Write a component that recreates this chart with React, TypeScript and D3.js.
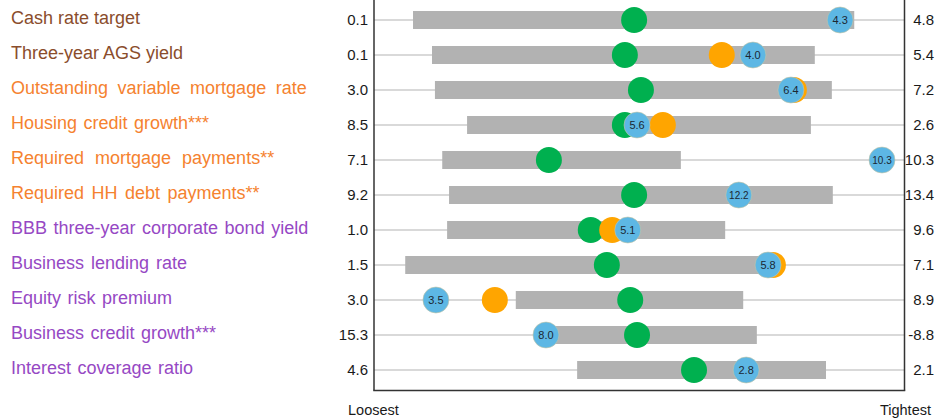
import React, { useEffect } from 'react';
import * as d3 from 'd3';

// indicators, top to bottom
const categories = [
  'Cash rate target',
  'Three-year AGS yield',
  'Outstanding variable mortgage rate',
  'Housing credit growth***',
  'Required mortgage payments**',
  'Required HH debt payments**',
  'BBB three-year corporate bond yield',
  'Business lending rate',
  'Equity risk premium',
  'Business credit growth***',
  'Interest coverage ratio',
];
const labelGroup = ['rates', 'rates', 'household', 'household', 'household', 'household',
  'business', 'business', 'business', 'business', 'business'];

const loosestValues = ['0.1', '0.1', '3.0', '8.5', '7.1', '9.2', '1.0', '1.5', '3.0', '15.3', '4.6'];
const tightestValues = ['4.8', '5.4', '7.2', '2.6', '10.3', '13.4', '9.6', '7.1', '8.9', '-8.8', '2.1'];

// positions between loosest (0) and tightest (1)
const rangeLow = [0.037, 0.076, 0.082, 0.148, 0.097, 0.111, 0.107, 0.021, 0.248, 0.312, 0.374];
const rangeHigh = [0.943, 0.862, 0.897, 0.854, 0.587, 0.899, 0.678, 0.770, 0.715, 0.743, 0.885];
const greenPos = [0.491, 0.472, 0.505, 0.472, 0.316, 0.491, 0.402, 0.435, 0.483, 0.497, 0.614];
const orangePos = [null, 0.671, 0.819, 0.550, null, null, 0.446, 0.776, 0.205, null, null];
const bluePos = [0.914, 0.735, 0.813, 0.497, 1.0, 0.706, 0.478, 0.766, 0.084, 0.310, 0.721];
const blueLabels = ['4.3', '4.0', '6.4', '5.6', '10.3', '12.2', '5.1', '5.8', '3.5', '8.0', '2.8'];

const groupColor = { rates: '#8a4d2c', household: '#f5822f', business: '#9648c4' };
// the source labels have uneven word gaps
const wordGap = [0, 0, 4.5, 1.5, 6, 2.5, 1.5, 2, 1.5, 1.5, 1.5];

const W = 935;
const H = 418;
const plotLeft = 374;
const plotRight = 904.5;
const plotBottom = 390.5;

export default function App() {
  useEffect(() => {
    document.body.style.margin = '0';
  }, []);

  const x = d3.scaleLinear().domain([0, 1]).range([395, 882]);
  const y = d3.scalePoint<string>().domain(categories).range([20, 370]);
  const r = 13;
  const barH = 18;
  const font = 'Liberation Sans, Arial, sans-serif';

  return (
    <svg width={W} height={H} style={{ display: 'block' }} fontFamily={font}>
      {categories.map((c, i) => (
        <g key={c}>
          <line x1={plotLeft} x2={plotRight} y1={y(c)} y2={y(c)} stroke="#d9d9d9" strokeWidth={2} />
          <rect x={x(rangeLow[i])} y={y(c)! - barH / 2} width={x(rangeHigh[i]) - x(rangeLow[i])}
            height={barH} fill="#b2b2b2" />
        </g>
      ))}
      {categories.map((c, i) => (
        <g key={'m' + c}>
          <circle cx={x(greenPos[i])} cy={y(c)} r={r} fill="#00b04f" />
          {orangePos[i] != null && (
            <circle cx={x(orangePos[i] as number)} cy={y(c)} r={r} fill="#ffa500" />
          )}
          <circle cx={x(bluePos[i])} cy={y(c)} r={r} fill="#5db7e4" stroke="#c9c6a4" strokeWidth={0.6} />
          <text x={x(bluePos[i])} y={y(c)} dy="0.35em" textAnchor="middle"
            fontSize={blueLabels[i].length > 3 ? 10 : 11} fill="#1b2733">{blueLabels[i]}</text>
        </g>
      ))}
      {categories.map((c, i) => (
        <g key={'t' + c}>
          <text x={11} y={y(c)! - 2} dy="0.35em" fontSize={18} wordSpacing={wordGap[i]}
            fill={groupColor[labelGroup[i] as keyof typeof groupColor]}>{c}</text>
          <text x={368} y={y(c)} dy="0.35em" textAnchor="end" fontSize={15} fill="#1a1a1a">
            {loosestValues[i]}
          </text>
          <text x={934} y={y(c)} dy="0.35em" textAnchor="end" fontSize={15} fill="#1a1a1a">
            {tightestValues[i]}
          </text>
        </g>
      ))}
      <line x1={plotLeft} x2={plotLeft} y1={0} y2={plotBottom} stroke="#333" strokeWidth={1.5} />
      <line x1={plotRight} x2={plotRight} y1={0} y2={plotBottom} stroke="#333" strokeWidth={1.5} />
      <line x1={plotLeft - 0.75} x2={plotRight + 0.75} y1={plotBottom} y2={plotBottom} stroke="#333" strokeWidth={1.5} />
      <text x={348} y={410} dy="0.35em" fontSize={14.5} fill="#1a1a1a">Loosest</text>
      <text x={931} y={410} dy="0.35em" textAnchor="end" fontSize={14.5} fill="#1a1a1a">Tightest</text>
    </svg>
  );
}
